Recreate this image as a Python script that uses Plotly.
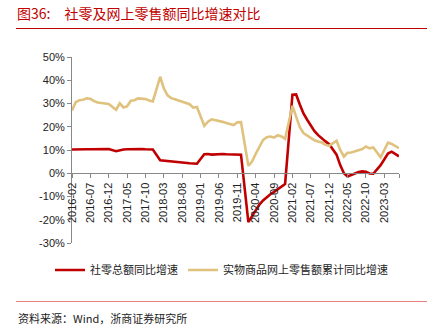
import plotly.graph_objects as go

# ---------------- data ----------------
categories = (
    ["2016-%02d" % m for m in range(2, 13)]
    + ["%d-%02d" % (y, m) for y in range(2017, 2023) for m in range(1, 13)]
    + ["2023-%02d" % m for m in range(1, 8)]
)

retail_yoy = [
    10.2, 10.3, 10.3, 10.2, 10.3, 10.3, 10.3, 10.4, 10.3, 10.4, 10.4,            # 2016
    None, 9.5, 10.0, 10.2, 10.3, 10.4, 10.4, 10.4, 10.4, 10.3, 10.3, 10.2,       # 2017
    None, 5.6, 5.4, 5.3, 5.0, 4.8, 4.6, 4.5, 4.4, 4.3, 4.2, 4.1,                 # 2018
    None, 8.2, 8.3, 8.0, 8.1, 8.4, 8.3, 8.2, 8.2, 8.1, 8.0, 8.0,                 # 2019
    None, -21.0, -18.5, -16.3, -13.5, -11.7, -10.3, -9.0, -8.0, -6.9, -5.8, -4.6,  # 2020
    None, 33.8, 33.9, 29.6, 25.7, 23.0, 20.7, 18.1, 16.4, 14.9, 13.7, 12.5,      # 2021
    None, 8.0, 3.5, 0.0, -1.4, -0.7, -0.2, 0.5, 0.8, 0.6, -0.1, -0.2,            # 2022
    None, 3.5, 5.8, 8.5, 9.3, 8.2, 7.3,                                          # 2023
]

online_yoy = [
    27.0, 30.6, 31.4, 31.6, 32.2, 32.0, 31.0, 30.4, 30.2, 30.0, 29.8,            # 2016
    None, 27.3, 30.1, 28.3, 28.8, 31.2, 31.4, 32.2, 32.1, 31.9, 31.3, 30.9,      # 2017
    None, 41.5, 36.5, 33.5, 32.3, 31.8, 31.3, 30.9, 30.4, 29.7, 28.2, 28.5,      # 2018
    None, 20.4, 22.2, 23.2, 22.9, 22.5, 22.1, 21.6, 21.1, 20.7, 21.9, 22.0,      # 2019
    None, 3.2, 5.0, 8.3, 11.5, 14.3, 15.5, 15.8, 15.3, 16.4, 15.8, 14.8,         # 2020
    None, 29.0, 24.5, 19.8, 17.3, 16.3, 15.3, 14.2, 13.6, 13.2, 12.2, 11.8,      # 2021
    None, 14.0, 10.0, 7.2, 8.8, 8.9, 9.3, 9.9, 10.4, 11.5, 10.7, 11.1,           # 2022
    None, 6.9, 10.0, 13.2, 12.6, 11.6, 10.8,                                     # 2023
]

series_names = ["社零总额同比增速", "实物商品网上零售额累计同比增速"]
y_tick_vals = [-30, -20, -10, 0, 10, 20, 30, 40, 50]
y_tick_text = ["-30%", "-20%", "-10%", "0%", "10%", "20%", "30%", "40%", "50%"]
x_tick_labels = [categories[i] for i in range(0, len(categories), 5)]

title_text = "图36:\u3000社零及网上零售额同比增速对比"
source_text = "资料来源：Wind，浙商证券研究所"

# ---------------- figure ----------------
W, H = 437, 332
L, R, T, B = 72, 38, 57, 89
PW, PH = W - L - R, H - T - B


def px_x(p):
    return (p - L) / PW


def px_y(p):
    return (H - B - p) / PH


fig = go.Figure()
fig.add_trace(go.Scatter(
    x=categories, y=retail_yoy, name=series_names[0], mode="lines",
    connectgaps=True, line=dict(color="#C00000", width=2.6),
))
fig.add_trace(go.Scatter(
    x=categories, y=online_yoy, name=series_names[1], mode="lines",
    connectgaps=True, line=dict(color="#DFC27D", width=2.6),
))

tickvals_x = x_tick_labels + [categories[-1]]
ticktext_x = x_tick_labels + [""]

fig.update_layout(
    width=W, height=H,
    margin=dict(l=L, r=R, t=T, b=B, pad=0),
    paper_bgcolor="white", plot_bgcolor="white",
    font=dict(family="Liberation Sans, Arial, sans-serif", size=11, color="#222"),
    showlegend=True,
    legend=dict(
        orientation="h", x=px_x(50), y=px_y(270), xanchor="left", yanchor="middle",
        font=dict(family="Noto Sans CJK SC", size=11, color="#222"),
        itemwidth=30, bgcolor="rgba(0,0,0,0)",
    ),
    xaxis=dict(
        type="category", range=[0, len(categories) - 1],
        anchor="free", position=30 / 80,
        showline=True, linecolor="#888", linewidth=1,
        ticks="outside", ticklen=4, tickcolor="#888",
        tickvals=tickvals_x, ticktext=ticktext_x,
        tickangle=-90, tickfont=dict(size=11, color="#222"),
        showgrid=False, zeroline=False,
    ),
    yaxis=dict(
        range=[-30, 50], tickvals=y_tick_vals, ticktext=y_tick_text,
        showline=True, linecolor="#888", linewidth=1,
        ticks="outside", ticklen=4, tickcolor="#888",
        tickfont=dict(size=11, color="#222"),
        showgrid=False, zeroline=False,
    ),
    title=dict(
        text=title_text, xref="container", yref="container",
        x=17 / W, xanchor="left", y=1 - 14 / H, yanchor="middle",
        font=dict(family="Noto Sans CJK SC", size=14, color="#C00000"),
    ),
)

fig.add_shape(type="line", xref="paper", yref="paper",
              x0=px_x(16), x1=px_x(427), y0=px_y(28.5), y1=px_y(28.5),
              line=dict(color="#C00000", width=1))
fig.add_shape(type="line", xref="paper", yref="paper",
              x0=px_x(16), x1=px_x(427), y0=px_y(301.5), y1=px_y(301.5),
              line=dict(color="#E88080", width=1.2))

fig.add_annotation(
    text=source_text, xref="paper", yref="paper",
    x=px_x(16), y=px_y(318), xanchor="left", yanchor="middle", showarrow=False,
    font=dict(family="Noto Sans CJK SC", size=11, color="#222"),
)

fig.write_html("out.html")
